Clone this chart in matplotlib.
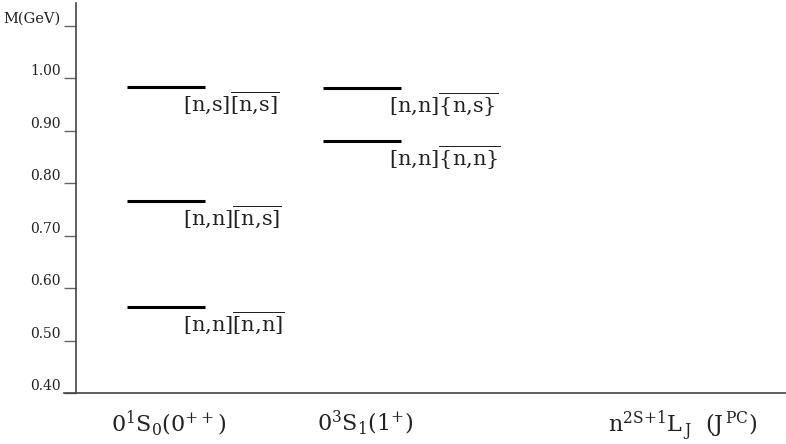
import numpy as np
import matplotlib.pyplot as plt

plt.rcParams['font.family'] = 'DejaVu Serif'
plt.rcParams['mathtext.fontset'] = 'dejavuserif'

# --- data ---
states = [r'$0^{1}\mathrm{S}_{0}(0^{++})$', r'$0^{3}\mathrm{S}_{1}(1^{+})$',
          r'$\mathrm{n}^{\mathrm{2S{+}1}}\mathrm{L}_{\,\mathrm{J}}\ \ (\mathrm{J}^{\,\mathrm{PC}})$']
scalar_mass = [0.983, 0.766, 0.564]
scalar_names = [r'$\mathrm{[n{,}s]}\overline{\mathrm{[n{,}s]}}$',
                r'$\mathrm{[n{,}n]}\overline{\mathrm{[n{,}s]}}$',
                r'$\mathrm{[n{,}n]}\overline{\mathrm{[n{,}n]}}$']
axial_mass = [0.981, 0.880]
axial_names = [r'$\mathrm{[n{,}n]}\overline{\{\mathrm{n{,}s}\}}$',
               r'$\mathrm{[n{,}n]}\overline{\{\mathrm{n{,}n}\}}$']
yticks = [0.40, 0.50, 0.60, 0.70, 0.80, 0.90, 1.00, 1.10]
yticklabels = ['0.40', '0.50', '0.60', '0.70', '0.80', '0.90', '1.00', 'M(GeV)']

# column positions (axis units ~ pixels from the y spine)
col_x = [90, 286, 604]
half = 39

fig = plt.figure(figsize=(7.86, 4.44), dpi=100)
ax = fig.add_axes([76 / 786, 1 - 393 / 444, 710 / 786, 390 / 444])
ax.set_xlim(0, 710)
ax.set_ylim(0.40, 1.143)

for m, name in zip(scalar_mass, scalar_names):
    ax.plot([col_x[0] - half, col_x[0] + half], [m, m], color='black', lw=2.2, solid_capstyle='butt')
    ax.text(col_x[0] + 17, m - 0.005, name, fontsize=15, ha='left', va='top', color='#222222')

for m, name in zip(axial_mass, axial_names):
    ax.plot([col_x[1] - half, col_x[1] + half], [m, m], color='black', lw=2.2, solid_capstyle='butt')
    ax.text(col_x[1] + 27, m - 0.005, name, fontsize=15, ha='left', va='top', color='#222222')

for x, s in zip(col_x, states):
    ax.text(x + 3, 0.40 - 0.03, s, fontsize=16, ha='center', va='top', color='#222222')

for side in ['top', 'right']:
    ax.spines[side].set_visible(False)
ax.spines['left'].set_color('#444444')
ax.spines['bottom'].set_color('#444444')
ax.spines['left'].set_linewidth(1.2)
ax.spines['bottom'].set_linewidth(1.2)
ax.spines['bottom'].set_bounds(-12, 710)
ax.spines['bottom'].set_clip_on(False)

ax.set_xticks([])
ax.set_yticks(yticks)
ax.set_yticklabels(yticklabels, fontsize=10)
ax.tick_params(axis='y', length=9, width=1, color='#666666', pad=2, labelcolor='#222222')
for lab in ax.get_yticklabels():
    lab.set_verticalalignment('bottom')
ax.get_yticklabels()[-1].set_y(1.13)
ax.get_yticklabels()[-1].set_fontsize(10.5)

fig.savefig('out.png', dpi=100)
